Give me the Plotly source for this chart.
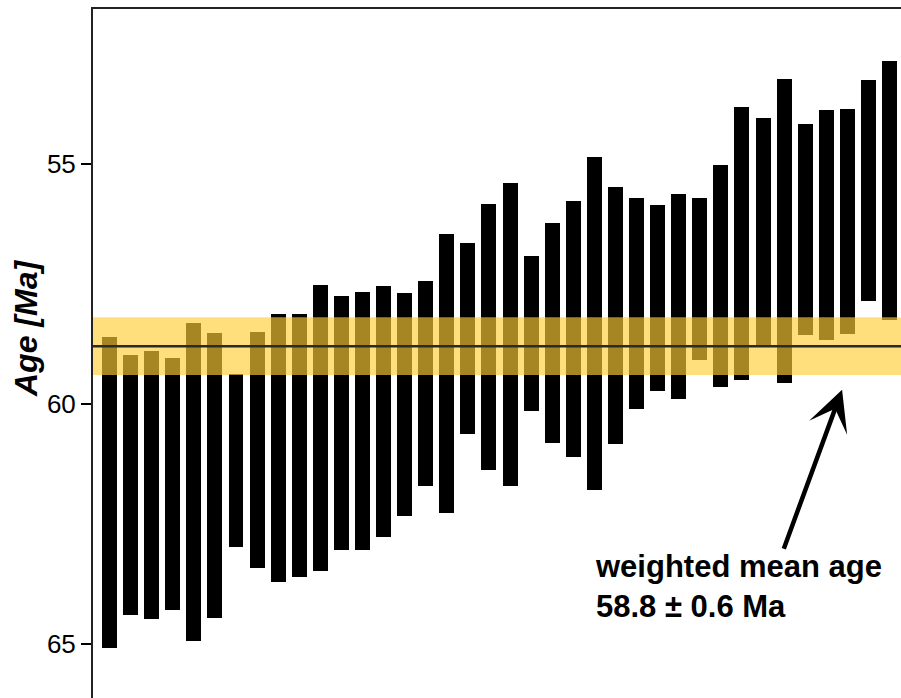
import plotly.graph_objects as go

# Grain index
grains = list(range(1, 39))
# Upper (younger) end of each age bar, Ma
age_top = [58.61, 58.99, 58.90, 59.05, 58.32, 58.53, 59.38, 58.51, 58.13, 58.13,
           57.53, 57.76, 57.67, 57.55, 57.69, 57.44, 56.46, 56.65, 55.84, 55.40,
           56.92, 56.24, 55.78, 54.86, 55.49, 55.71, 55.86, 55.63, 55.71, 55.03,
           53.82, 54.05, 53.24, 54.17, 53.88, 53.86, 53.26, 52.86]
# Lower (older) end of each age bar, Ma
age_bottom = [65.08, 64.40, 64.48, 64.29, 64.94, 64.46, 62.98, 63.42, 63.71, 63.60,
              63.48, 63.04, 63.04, 62.77, 62.33, 61.71, 62.27, 60.63, 61.37, 61.71,
              60.15, 60.81, 61.10, 61.79, 60.83, 60.10, 59.73, 59.90, 59.09, 59.65,
              59.51, 58.79, 59.56, 58.56, 58.67, 58.54, 57.86, 58.25]
weighted_mean = 58.8
weighted_err = 0.6
y_ticks = [55, 60, 65]
y_title = "Age [Ma]"
note_text = "weighted mean age<br>58.8 ± 0.6 Ma"

lengths = [b - t for t, b in zip(age_top, age_bottom)]

FONT = "Liberation Sans, Arial, sans-serif"

fig = go.Figure()
fig.add_trace(go.Bar(
    x=grains, y=lengths, base=age_top, width=0.71,
    marker=dict(color="black", line=dict(width=0)),
    hoverinfo="skip", showlegend=False,
))

# weighted-mean band and line
fig.add_shape(type="rect", xref="paper", yref="y", x0=0, x1=1,
              y0=weighted_mean - weighted_err, y1=weighted_mean + weighted_err,
              fillcolor="rgba(255,206,54,0.65)", line=dict(width=0), layer="above")
fig.add_shape(type="line", xref="paper", yref="y", x0=0, x1=1,
              y0=weighted_mean, y1=weighted_mean,
              line=dict(color="#2a2a2a", width=2.5), layer="above")

# annotation text and arrow
fig.add_annotation(x=23.95, y=63.8, xref="x", yref="y", xanchor="left", yanchor="middle",
                   text="<b>" + note_text + "</b>", showarrow=False, align="left",
                   font=dict(family=FONT, size=31, color="black"))
fig.add_annotation(x=35.75, y=59.71, xref="x", yref="y", ax=32.96, ay=63.05,
                   axref="x", ayref="y", text="", showarrow=True,
                   arrowhead=3, arrowsize=1.5, arrowwidth=4.5, arrowcolor="black")

# y-axis title (positioned in pixels, converted to paper fraction)
plot_w = 901 - 93
plot_h = 698 - 9
fig.add_annotation(x=(26 - 93) / plot_w, y=1 - (329 - 9) / plot_h,
                   xref="paper", yref="paper", text="<b><i>" + y_title + "</i></b>",
                   textangle=-90, showarrow=False, xanchor="center", yanchor="middle",
                   font=dict(family=FONT, size=32, color="black"))

fig.update_layout(
    width=901, height=698,
    margin=dict(l=93, r=0, t=9, b=0, pad=0),
    paper_bgcolor="white", plot_bgcolor="white",
    bargap=0,
    xaxis=dict(range=[0.2173, 38.5456], side="top", showline=True, linecolor="#222",
               linewidth=1.5, showticklabels=False, ticks="", showgrid=False,
               zeroline=False, fixedrange=True),
    yaxis=dict(range=[66.13, 51.777], showline=True, linecolor="#222", linewidth=2,
               ticks="outside", ticklen=10, tickwidth=2, tickcolor="black",
               tickvals=y_ticks, ticktext=[str(v) for v in y_ticks],
               tickfont=dict(family=FONT, size=26, color="black"),
               showgrid=False, zeroline=False, fixedrange=True),
)

fig.write_html("out.html")
